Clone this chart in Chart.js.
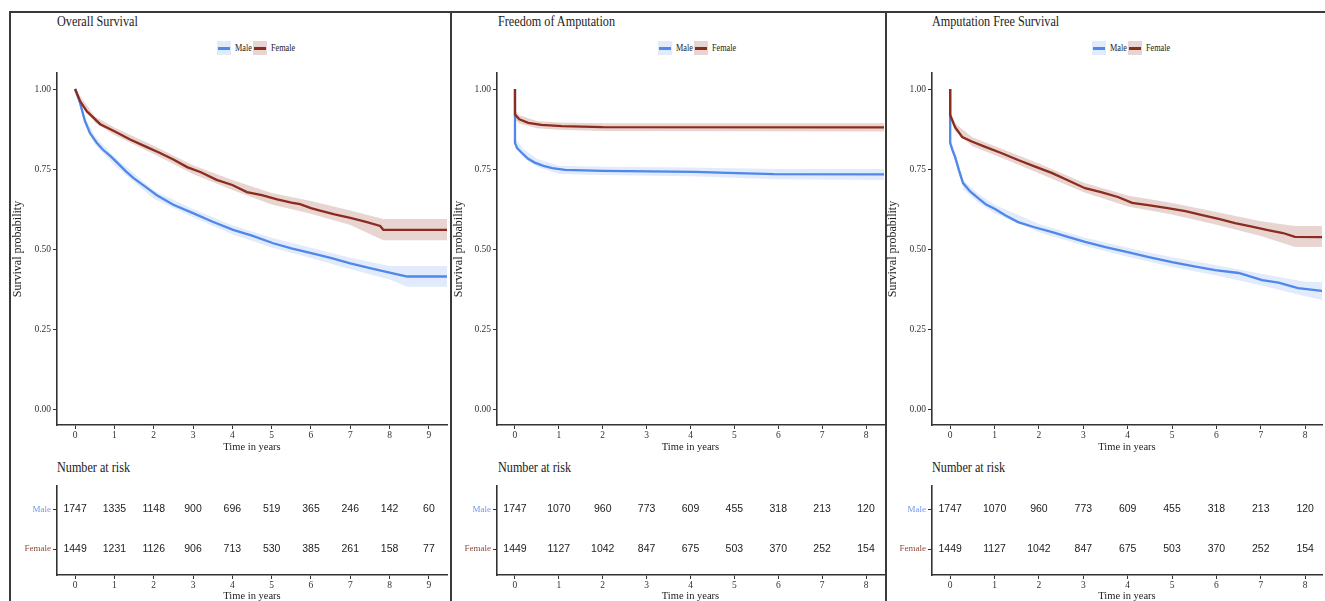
<!DOCTYPE html>
<html>
<head>
<meta charset="utf-8">
<script src="https://cdn.jsdelivr.net/npm/chart.js@4.4.1/dist/chart.umd.min.js"></script>
<style>
  body { margin: 0; background: #fff; width: 1325px; height: 601px; overflow: hidden; position: relative; font-family: "Liberation Serif", serif; }
  .ln { position: absolute; background: #3a3a3a; }
  .ttl { position: absolute; font-size: 14px; line-height: 16px; color: #222; transform: scaleX(.87); transform-origin: 0 50%; white-space: nowrap; }
  .lt { position: absolute; font-size: 10px; line-height: 12px; color: #222; transform: scaleX(.82); transform-origin: 0 50%; white-space: nowrap; }
  .key { position: absolute; width: 14px; height: 14px; }
  .key i { position: absolute; left: 1px; right: 1px; top: 6px; height: 2.5px; }
  canvas { position: absolute; }
</style>
</head>
<body>
<div id="page"></div>
<script>
// ---- data ----
const groups = ["Male", "Female"];
const yTicks = [0, 0.25, 0.5, 0.75, 1];
const xTicks9 = [0, 1, 2, 3, 4, 5, 6, 7, 8, 9];
const xTicks8 = [0, 1, 2, 3, 4, 5, 6, 7, 8];

// Overall Survival
const osMaleT = [0, 0.13, 0.25, 0.38, 0.55, 0.71, 0.9, 1.07, 1.3, 1.48, 1.75, 2.08, 2.5, 3.0, 3.5, 4.02, 4.5, 5.04, 5.5, 5.98, 6.5, 7.0, 7.5, 8.0, 8.45, 9.46];
const osMaleS = [1.0, 0.955, 0.9, 0.862, 0.832, 0.81, 0.79, 0.77, 0.742, 0.722, 0.698, 0.668, 0.638, 0.612, 0.585, 0.56, 0.542, 0.518, 0.502, 0.488, 0.472, 0.455, 0.44, 0.426, 0.414, 0.414];
const osFemaleT = [0, 0.13, 0.3, 0.64, 1.0, 1.4, 1.8, 2.16, 2.5, 2.85, 3.2, 3.6, 4.0, 4.37, 4.75, 5.14, 5.5, 5.72, 6.0, 6.23, 6.6, 7.0, 7.4, 7.76, 7.84, 9.46];
const osFemaleS = [1.0, 0.962, 0.93, 0.89, 0.868, 0.842, 0.82, 0.8, 0.78, 0.756, 0.74, 0.716, 0.7, 0.678, 0.668, 0.655, 0.645, 0.64, 0.628, 0.62, 0.608, 0.597, 0.585, 0.572, 0.56, 0.56];
const osMaleBandT = [0, 0.25, 0.5, 1, 2, 3, 4, 5, 6, 7, 8, 8.45, 9.46];
const osMaleHi = [1.0, 0.912, 0.853, 0.788, 0.683, 0.625, 0.574, 0.535, 0.504, 0.473, 0.447, 0.447, 0.447];
const osMaleLo = [1.0, 0.888, 0.827, 0.762, 0.657, 0.599, 0.546, 0.505, 0.472, 0.437, 0.405, 0.382, 0.382];
const osFemaleBandT = [0, 0.5, 1, 2, 3, 4, 5, 6, 7, 7.84, 9.46];
const osFemaleHi = [1.0, 0.915, 0.88, 0.823, 0.762, 0.716, 0.675, 0.65, 0.62, 0.594, 0.594];
const osFemaleLo = [1.0, 0.895, 0.856, 0.797, 0.734, 0.684, 0.639, 0.61, 0.575, 0.527, 0.527];

// Freedom of Amputation
const faMaleT = [0, 0, 0.05, 0.16, 0.3, 0.45, 0.65, 0.85, 1.14, 2.0, 4.1, 4.85, 5.9, 8.41];
const faMaleS = [1.0, 0.831, 0.815, 0.8, 0.782, 0.77, 0.76, 0.753, 0.747, 0.744, 0.741, 0.738, 0.734, 0.733];
const faFemaleT = [0, 0, 0.1, 0.3, 0.6, 1.07, 2.0, 8.41];
const faFemaleS = [1.0, 0.92, 0.905, 0.894, 0.888, 0.884, 0.881, 0.88];
const faMaleBandT = [0, 0.2, 0.5, 1, 2, 4, 6, 8.41];
const faMaleHi = [0.846, 0.812, 0.782, 0.76, 0.757, 0.755, 0.75, 0.75];
const faMaleLo = [0.816, 0.786, 0.757, 0.734, 0.731, 0.727, 0.718, 0.716];
const faFemaleBandT = [0, 0.1, 0.5, 1, 2, 8.41];
const faFemaleHi = [0.935, 0.918, 0.9, 0.895, 0.893, 0.893];
const faFemaleLo = [0.905, 0.892, 0.877, 0.873, 0.869, 0.867];

// Amputation Free Survival
const afsMaleT = [0, 0, 0.05, 0.11, 0.2, 0.29, 0.45, 0.63, 0.8, 1.01, 1.25, 1.53, 1.9, 2.3, 2.65, 3.04, 3.5, 4.0, 4.5, 5.0, 5.5, 5.97, 6.5, 7.03, 7.4, 7.84, 8.38];
const afsMaleS = [1.0, 0.831, 0.81, 0.788, 0.745, 0.706, 0.68, 0.659, 0.64, 0.625, 0.605, 0.584, 0.568, 0.553, 0.538, 0.522, 0.506, 0.49, 0.474, 0.459, 0.446, 0.434, 0.425, 0.403, 0.395, 0.378, 0.369];
const afsFemaleT = [0, 0, 0.11, 0.27, 0.5, 0.79, 1.15, 1.53, 1.9, 2.3, 2.65, 3.04, 3.4, 3.78, 4.1, 4.5, 4.9, 5.3, 5.68, 6.05, 6.42, 6.8, 7.16, 7.5, 7.77, 8.38];
const afsFemaleS = [1.0, 0.919, 0.881, 0.85, 0.835, 0.819, 0.8, 0.778, 0.758, 0.737, 0.715, 0.69, 0.678, 0.6625, 0.644, 0.636, 0.628, 0.618, 0.606, 0.594, 0.581, 0.57, 0.559, 0.55, 0.538, 0.537];
const afsMaleBandT = [0, 0.11, 0.3, 0.63, 1, 2, 3, 4, 5, 6, 7, 8, 8.38];
const afsMaleHi = [0.845, 0.802, 0.714, 0.673, 0.638, 0.578, 0.537, 0.504, 0.474, 0.449, 0.423, 0.398, 0.397];
const afsMaleLo = [0.817, 0.774, 0.686, 0.645, 0.612, 0.552, 0.511, 0.476, 0.444, 0.417, 0.387, 0.352, 0.341];
const afsFemaleBandT = [0, 0.11, 0.5, 1, 2, 3, 4, 5, 6, 7, 7.77, 8.38];
const afsFemaleHi = [0.93, 0.893, 0.849, 0.822, 0.767, 0.708, 0.667, 0.644, 0.616, 0.587, 0.572, 0.572];
const afsFemaleLo = [0.908, 0.869, 0.821, 0.794, 0.737, 0.678, 0.633, 0.608, 0.576, 0.541, 0.506, 0.506];

// Number at risk
const osRiskMale = [1747, 1335, 1148, 900, 696, 519, 365, 246, 142, 60];
const osRiskFemale = [1449, 1231, 1126, 906, 713, 530, 385, 261, 158, 77];
const faRiskMale = [1747, 1070, 960, 773, 609, 455, 318, 213, 120];
const faRiskFemale = [1449, 1127, 1042, 847, 675, 503, 370, 252, 154];
const afsRiskMale = [1747, 1070, 960, 773, 609, 455, 318, 213, 120];
const afsRiskFemale = [1449, 1127, 1042, 847, 675, 503, 370, 252, 154];

// ---- styles ----
const serif = "Liberation Serif";
const maleCol = "#4f87ea";
const femaleCol = "#8b2c1c";
const maleBand = "rgba(79,135,234,0.17)";
const femaleBand = "rgba(139,44,28,0.2)";
const rowCols = ["#6f97ea", "#8d4b3d"];

const panels = [
  { frame: 10, axisLeft: 57, axisRight: 447, xMin: -0.46, xMax: 9.46, xTicks: xTicks9, title: "Overall Survival",
    male: [osMaleT, osMaleS], female: [osFemaleT, osFemaleS],
    maleBandData: [osMaleBandT, osMaleLo, osMaleHi], femaleBandData: [osFemaleBandT, osFemaleLo, osFemaleHi],
    risk: [osRiskMale, osRiskFemale] },
  { frame: 451, axisLeft: 497, axisRight: 884, xMin: -0.41, xMax: 8.41, xTicks: xTicks8, title: "Freedom of Amputation",
    male: [faMaleT, faMaleS], female: [faFemaleT, faFemaleS],
    maleBandData: [faMaleBandT, faMaleLo, faMaleHi], femaleBandData: [faFemaleBandT, faFemaleLo, faFemaleHi],
    risk: [faRiskMale, faRiskFemale] },
  { frame: 885, axisLeft: 932, axisRight: 1322, xMin: -0.41, xMax: 8.38, xTicks: xTicks8, title: "Amputation Free Survival",
    male: [afsMaleT, afsMaleS], female: [afsFemaleT, afsFemaleS],
    maleBandData: [afsMaleBandT, afsMaleLo, afsMaleHi], femaleBandData: [afsFemaleBandT, afsFemaleLo, afsFemaleHi],
    risk: [afsRiskMale, afsRiskFemale] }
];

const page = document.getElementById("page");

function addDiv(cls, css, html) {
  const d = document.createElement("div");
  d.className = cls;
  d.style.cssText = css;
  if (html) d.innerHTML = html;
  document.body.appendChild(d);
  return d;
}

function addCanvas(left, top, w, h) {
  const c = document.createElement("canvas");
  c.width = w; c.height = h;
  c.style.left = left + "px"; c.style.top = top + "px";
  c.style.width = w + "px"; c.style.height = h + "px";
  document.body.appendChild(c);
  return c;
}

const pts = (t, v) => t.map((x, i) => ({ x: x, y: v[i] }));

function bandSets(b, color) {
  return [
    { data: pts(b[0], b[2]), borderWidth: 0, pointRadius: 0, fill: false, order: 5 },
    { data: pts(b[0], b[1]), borderWidth: 0, pointRadius: 0, fill: "-1", backgroundColor: color, order: 5 }
  ];
}

function xAxis(p, h, padBottom) {
  return {
    type: "linear", min: p.xMin, max: p.xMax,
    afterBuildTicks: s => { s.ticks = p.xTicks.map(v => ({ value: v })); },
    afterFit: s => { s.height = h; },
    ticks: { font: { family: serif, size: 9.5 }, color: "#333", padding: 1, maxRotation: 0 },
    grid: { drawOnChartArea: false, tickLength: 4, color: "#333" },
    border: { display: true, color: "#333", width: 1.6 },
    title: { display: true, text: "Time in years", color: "#222", font: { family: serif, size: 10.5 }, padding: { top: 0, bottom: padBottom } }
  };
}

// number-at-risk labels placed on the points of each row dataset
const riskText = {
  id: "riskText",
  afterDatasetsDraw(chart) {
    const ctx = chart.ctx;
    ctx.save();
    ctx.font = '10.5px "Liberation Sans"';
    ctx.fillStyle = "#222";
    ctx.textAlign = "center";
    ctx.textBaseline = "middle";
    chart.data.datasets.forEach((ds, i) => {
      chart.getDatasetMeta(i).data.forEach((el, j) => {
        ctx.fillText(String(ds.data[j].n), el.x, el.y);
      });
    });
    ctx.restore();
  }
};

// frame lines
addDiv("ln", "left:9px;top:11px;width:1316px;height:1.5px");
addDiv("ln", "left:9px;top:11px;width:1.5px;height:590px");
addDiv("ln", "left:450px;top:11px;width:1.5px;height:590px");
addDiv("ln", "left:885px;top:11px;width:1.5px;height:590px");

panels.forEach(p => {
  // title and legend
  addDiv("ttl", `left:${p.frame + 47}px;top:14px`, p.title);
  addDiv("ttl", `left:${p.frame + 47}px;top:460px`, "Number at risk");
  addDiv("key", `left:${p.frame + 207}px;top:41px;background:${maleBand}`, `<i style="background:${maleCol}"></i>`);
  addDiv("lt", `left:${p.frame + 225}px;top:42px`, groups[0]);
  addDiv("key", `left:${p.frame + 243}px;top:41px;background:${femaleBand}`, `<i style="background:${femaleCol}"></i>`);
  addDiv("lt", `left:${p.frame + 261}px;top:42px`, groups[1]);

  const left = p.frame + 1;
  const w = p.axisRight + 2 - left;

  // survival curves
  const km = addCanvas(left, 60, w, 400);
  new Chart(km, {
    type: "line",
    data: {
      datasets: [
        { label: groups[1], data: pts(p.female[0], p.female[1]), borderColor: femaleCol, borderWidth: 2.3, pointRadius: 0, fill: false, order: 0 },
        { label: groups[0], data: pts(p.male[0], p.male[1]), borderColor: maleCol, borderWidth: 2.3, pointRadius: 0, fill: false, order: 1 },
        ...bandSets(p.maleBandData, maleBand),
        ...bandSets(p.femaleBandData, femaleBand)
      ]
    },
    options: {
      responsive: false, animation: false, devicePixelRatio: 1,
      layout: { padding: { top: 13, right: 2, left: 0, bottom: 0 } },
      plugins: { legend: { display: false }, tooltip: { enabled: false } },
      elements: { line: { tension: 0 } },
      scales: {
        x: xAxis(p, 35, 6.7),
        y: {
          type: "linear", min: -0.05, max: 1.05,
          afterBuildTicks: s => { s.ticks = yTicks.map(v => ({ value: v })); },
          afterFit: s => { s.width = p.axisLeft - left; },
          ticks: { font: { family: serif, size: 9.5 }, color: "#333", padding: 2, callback: v => v.toFixed(2) },
          grid: { drawOnChartArea: false, tickLength: 4, color: "#333" },
          border: { display: true, color: "#333", width: 1.6 },
          title: { display: true, text: "Survival probability", color: "#222", font: { family: serif, size: 12 }, padding: { top: 0, bottom: 0 } }
        }
      }
    }
  });

  // number at risk table
  const rk = addCanvas(left, 478, w, 128);
  new Chart(rk, {
    type: "line",
    data: {
      datasets: groups.map((g, i) => ({
        label: g,
        data: p.risk[i].map((n, j) => ({ x: p.xTicks[j], y: groups.length - i, n: n })),
        showLine: false, pointRadius: 0
      }))
    },
    options: {
      responsive: false, animation: false, devicePixelRatio: 1,
      layout: { padding: { top: 7, right: 2, left: 0, bottom: 0 } },
      plugins: { legend: { display: false }, tooltip: { enabled: false } },
      scales: {
        x: xAxis(p, 31, 3.7),
        y: {
          type: "linear", min: 0.35, max: 2.6,
          afterBuildTicks: s => { s.ticks = groups.map((g, i) => ({ value: groups.length - i })); },
          afterFit: s => { s.width = p.axisLeft - left; },
          ticks: {
            font: { family: serif, size: 9 }, padding: 2,
            color: c => rowCols[groups.length - c.tick.value],
            callback: v => groups[groups.length - v]
          },
          grid: { drawOnChartArea: false, tickLength: 4, color: "#333" },
          border: { display: true, color: "#333", width: 1.6 }
        }
      }
    },
    plugins: [riskText]
  });
});
</script>
</body>
</html>
